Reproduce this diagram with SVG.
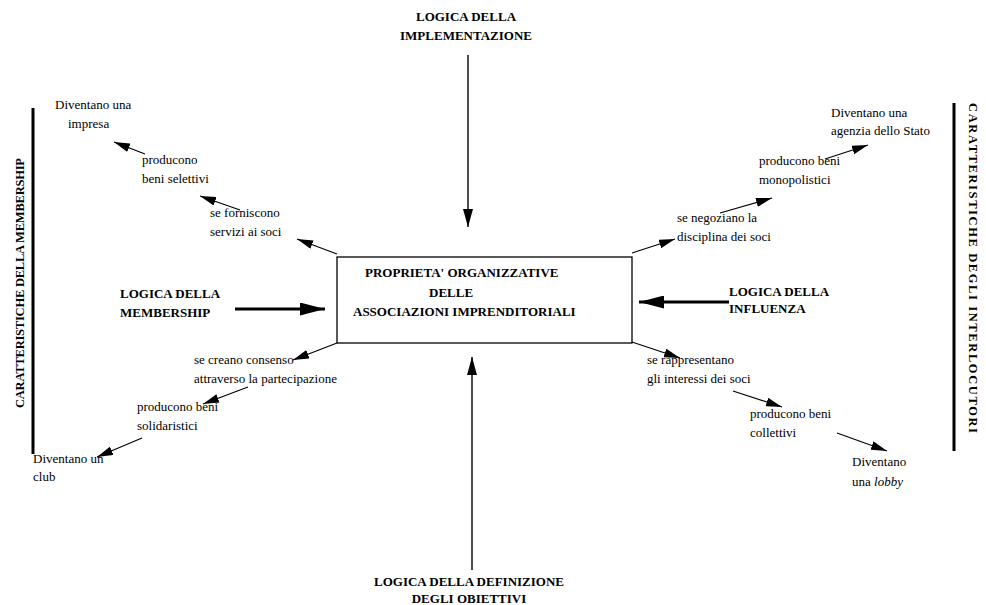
<svg xmlns="http://www.w3.org/2000/svg" width="986" height="605" viewBox="0 0 986 605">
<defs>
<style>
.t{font-family:"Liberation Serif","Times New Roman",serif;font-size:13px;fill:#000}
.b{font-family:"Liberation Serif","Times New Roman",serif;font-size:13px;font-weight:bold;fill:#000}
.v{font-family:"Liberation Serif","Times New Roman",serif;font-size:12.5px;font-weight:bold;fill:#000}
.thin{stroke:#000;stroke-width:1.2;fill:none}
.mid{stroke:#000;stroke-width:1.4;fill:none}
.thick{stroke:#000;stroke-width:3;fill:none}
</style>
<marker id="ah" markerUnits="userSpaceOnUse" viewBox="0 0 16 9" refX="16" refY="4.5" markerWidth="16" markerHeight="9" orient="auto"><path d="M0,0 L16,4.5 L0,9 z" fill="#000"/></marker>
<marker id="av" markerUnits="userSpaceOnUse" viewBox="0 0 18 10" refX="18" refY="5" markerWidth="18" markerHeight="10" orient="auto"><path d="M0,0 L18,5 L0,10 z" fill="#000"/></marker>
<marker id="ak" markerUnits="userSpaceOnUse" viewBox="0 0 25 13" refX="25" refY="6.5" markerWidth="25" markerHeight="13" orient="auto"><path d="M0,0 L25,6.5 L0,13 z" fill="#000"/></marker>
</defs>
<rect width="986" height="605" fill="#fff"/>

<g id="bar-left">
<line x1="33" y1="108" x2="33" y2="454" class="thick"/>
<text class="v" transform="translate(24,283) rotate(-90)" text-anchor="middle" textLength="250" lengthAdjust="spacing">CARATTERISTICHE DELLA  MEMBERSHIP</text>
</g>
<g id="bar-right">
<line x1="954" y1="103" x2="954" y2="451" class="thick"/>
<text class="v" transform="translate(969,268) rotate(90)" text-anchor="middle" textLength="330" lengthAdjust="spacing">CARATTERISTICHE DEGLI INTERLOCUTORI</text>
</g>

<g id="center">
<rect x="337" y="257" width="295" height="86" fill="#fff" stroke="#000" stroke-width="1.3"/>
<text class="b" x="365" y="277">PROPRIETA' ORGANIZZATIVE</text>
<text class="b" x="429" y="297">DELLE</text>
<text class="b" x="353" y="316">ASSOCIAZIONI IMPRENDITORIALI</text>
</g>

<g id="logica-implementazione">
<text class="b" x="466" y="21" text-anchor="middle">LOGICA DELLA</text>
<text class="b" x="466" y="40" text-anchor="middle">IMPLEMENTAZIONE</text>
</g>
<g id="logica-obiettivi">
<text class="b" x="469" y="586" text-anchor="middle">LOGICA DELLA DEFINIZIONE</text>
<text class="b" x="469" y="603" text-anchor="middle">DEGLI OBIETTIVI</text>
</g>
<g id="logica-membership">
<text class="b" x="120" y="298">LOGICA DELLA</text>
<text class="b" x="120" y="317">MEMBERSHIP</text>
</g>
<g id="logica-influenza">
<text class="b" x="729" y="296">LOGICA DELLA</text>
<text class="b" x="729" y="313">INFLUENZA</text>
</g>

<g id="servizi"><text class="t" x="210" y="217">se forniscono</text><text class="t" x="210" y="236">servizi ai soci</text></g>
<g id="selettivi"><text class="t" x="142" y="164">producono</text><text class="t" x="142" y="183">beni selettivi</text></g>
<g id="impresa"><text class="t" x="55" y="109">Diventano una</text><text class="t" x="68" y="128">impresa</text></g>

<g id="consenso"><text class="t" x="194" y="364">se creano consenso</text><text class="t" x="194" y="383">attraverso la partecipazione</text></g>
<g id="solidaristici"><text class="t" x="137" y="411">producono beni</text><text class="t" x="137" y="430">solidaristici</text></g>
<g id="club"><text class="t" x="33" y="463">Diventano un</text><text class="t" x="33" y="481">club</text></g>

<g id="disciplina"><text class="t" x="677" y="222">se negoziano la</text><text class="t" x="677" y="241">disciplina dei soci</text></g>
<g id="monopolistici"><text class="t" x="759" y="165">producono beni</text><text class="t" x="759" y="184">monopolistici</text></g>
<g id="agenzia"><text class="t" x="831" y="117">Diventano una</text><text class="t" x="831" y="135">agenzia dello Stato</text></g>

<g id="interessi"><text class="t" x="647" y="364">se rappresentano</text><text class="t" x="647" y="383">gli interessi dei soci</text></g>
<g id="collettivi"><text class="t" x="750" y="418">producono beni</text><text class="t" x="750" y="437">collettivi</text></g>
<g id="lobby"><text class="t" x="852" y="466">Diventano</text><text class="t" x="852" y="486">una <tspan font-style="italic">lobby</tspan></text></g>

<g id="connectors">
<line x1="468" y1="55" x2="468" y2="227" class="mid" marker-end="url(#av)"/>
<line x1="472" y1="570" x2="472" y2="357" class="mid" marker-end="url(#av)"/>
<line x1="235" y1="309" x2="325" y2="309" class="thick" marker-end="url(#ak)"/>
<line x1="729" y1="302" x2="639" y2="302" class="thick" marker-end="url(#ak)"/>

<line x1="337" y1="254" x2="297" y2="239" class="thin" marker-end="url(#ah)"/>
<line x1="240" y1="210" x2="200" y2="196" class="thin" marker-end="url(#ah)"/>
<line x1="145" y1="154" x2="114" y2="142" class="thin" marker-end="url(#ah)"/>

<line x1="337" y1="343" x2="293" y2="360" class="thin" marker-end="url(#ah)"/>
<line x1="248" y1="387" x2="203" y2="404" class="thin" marker-end="url(#ah)"/>
<line x1="142" y1="438" x2="97" y2="457" class="thin" marker-end="url(#ah)"/>

<line x1="632" y1="253" x2="675" y2="239" class="thin" marker-end="url(#ah)"/>
<line x1="720" y1="213" x2="772" y2="198" class="thin" marker-end="url(#ah)"/>
<line x1="825" y1="159" x2="868" y2="145" class="thin" marker-end="url(#ah)"/>

<line x1="632" y1="342" x2="680" y2="358" class="thin" marker-end="url(#ah)"/>
<line x1="733" y1="391" x2="782" y2="407" class="thin" marker-end="url(#ah)"/>
<line x1="837" y1="433" x2="887" y2="451" class="thin" marker-end="url(#ah)"/>
</g>
</svg>
